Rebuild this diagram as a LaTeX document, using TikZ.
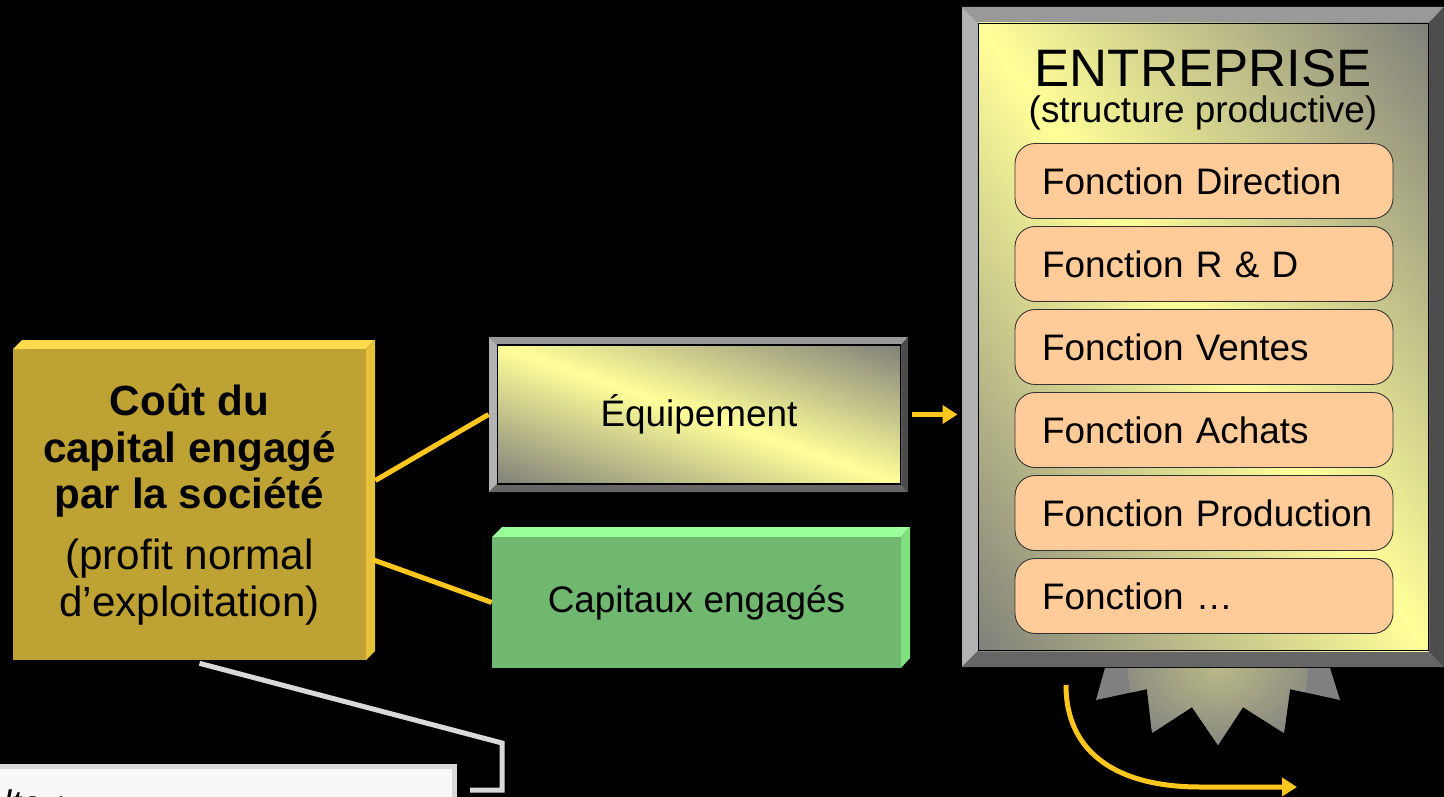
\documentclass[tikz,border=0pt]{standalone}
\usepackage{fontspec}
\setmainfont{Liberation Sans}
\usetikzlibrary{positioning,arrows.meta}

\definecolor{goldface}{RGB}{191,162,52}
\definecolor{goldtop}{RGB}{255,219,77}
\definecolor{goldside}{RGB}{230,194,58}
\definecolor{yellowface}{RGB}{255,255,153}
\definecolor{greyface}{RGB}{128,128,122}
\definecolor{greenface}{RGB}{112,184,112}
\definecolor{greentop}{RGB}{153,255,153}
\definecolor{greenside}{RGB}{128,224,128}
\definecolor{peach}{RGB}{255,204,153}
\definecolor{linkyellow}{RGB}{255,198,30}
\definecolor{calloutgrey}{RGB}{217,217,217}
\definecolor{notefill}{RGB}{248,248,248}
\definecolor{burstgrey}{RGB}{128,128,128}
\definecolor{glow}{RGB}{185,185,135}

\pgfdeclareverticalshading{bevelface}{100bp}{color(0bp)=(greyface); color(25bp)=(greyface); color(50bp)=(yellowface); color(75bp)=(greyface); color(100bp)=(greyface)}

\begin{document}
\begin{tikzpicture}[x=0.02cm, y=-0.02cm,
    every node/.style={font=\fontsize{21}{25}\selectfont},
    coutbox/.style={fill=goldface, minimum width=7.06cm, minimum height=6.22cm, inner sep=0pt, align=center, font=\fontsize{24}{26.6}\selectfont\bfseries},
    facebox/.style={draw=black, line width=0.6pt, inner sep=0pt},
    faceshade/.style={shading=bevelface},
    fonction/.style={draw=black!80, line width=0.5pt, fill=peach, rounded corners=0.4cm, minimum height=1.5cm, text width=7.02cm, inner xsep=0.27cm, inner ysep=0pt, align=left, execute at begin node=\hspace*{0.27cm}},
    link/.style={draw=linkyellow, line width=0.1cm},
    flow/.style={link, -{Triangle[length=0.3cm, width=0.36cm]}},
    calloutline/.style={draw=calloutgrey, line width=0.1cm}]

    \useasboundingbox (0,0) rectangle (1444,797);
    \clip (0,0) rectangle (1444,797);
    \fill[black] (0,0) rectangle (1444,797);

    % cout du capital
    \fill[goldtop] (13,349) -- (22,340) -- (375,340) -- (366,349) -- cycle;
    \fill[goldside] (366,349) -- (375,340) -- (375,651) -- (366,660) -- cycle;
    \node[coutbox] (cout) at (189.5,504.5) {Coût du\\capital engagé\\par la société\\[8pt]\mdseries (profit normal\\\mdseries d’exploitation)};

    % equipement
    \fill[black!40] (489,337) -- (908,337) -- (901,345) -- (497,345) -- cycle;
    \fill[black!30] (489,337) -- (497,345) -- (497,484) -- (489,492) -- cycle;
    \fill[black!60] (489,492) -- (497,484) -- (901,484) -- (908,492) -- cycle;
    \fill[black!70] (908,337) -- (901,345) -- (901,484) -- (908,492) -- cycle;
    \begin{scope}
        \clip (497,345) rectangle (901,484);
        \shade[faceshade, transform canvas={shift={(699,414.5)}, xscale=4.04, yscale=1.39, rotate=-45}] (-1.4142cm,-1.4142cm) rectangle (1.4142cm,1.4142cm);
    \end{scope}
    \node[facebox, minimum width=8.08cm, minimum height=2.78cm] (equip) at (699,414.5) {Équipement};

    % capitaux
    \fill[greentop] (492,537) -- (502,527) -- (910,527) -- (901,537) -- cycle;
    \fill[greenside] (901,537) -- (910,527) -- (910,658) -- (901,668) -- cycle;
    \node[fill=greenface, minimum width=8.18cm, minimum height=2.62cm, inner sep=0pt] (capit) at (696.5,602.5) {Capitaux engagés};

    % entreprise
    \fill[black!40] (962,7) -- (1444,7) -- (1429,23) -- (978,23) -- cycle;
    \fill[black!30] (962,7) -- (978,23) -- (978,651) -- (962,667) -- cycle;
    \fill[black!70] (1444,7) -- (1444,667) -- (1429,651) -- (1429,23) -- cycle;
    \fill[black!60] (962,667) -- (978,651) -- (1429,651) -- (1444,667) -- cycle;
    \begin{scope}
        \clip (978,23) rectangle (1429,651);
        \shade[faceshade, transform canvas={shift={(1203.5,337)}, xscale=4.51, yscale=6.28, rotate=-45}] (-1.4142cm,-1.4142cm) rectangle (1.4142cm,1.4142cm);
    \end{scope}
    \node[facebox, minimum width=9.02cm, minimum height=12.56cm] (ent) at (1203.5,337) {};
    \node[font=\fontsize{30}{36}\selectfont] (enttitle) at (1203,68) {ENTREPRISE};
    \node (entsub) at (1203,113) {(structure productive)};
    \foreach \t [count=\i] in {Direction, R \& D, Ventes, Achats, Production, …}
        \node[fonction] (f\i) at (1204,{181+83*(\i-1)}) {Fonction \t};

    % eclat
    \fill[burstgrey, path picture={\shade[inner color=glow, outer color=burstgrey] (path picture bounding box.north) circle (1.8cm);}]
        (1105,668) -- (1096,700) -- (1147,689) -- (1152,733) -- (1192,707) -- (1218,745)
        -- (1243,707) -- (1284,733) -- (1290,689) -- (1340,700) -- (1330,668) -- cycle;

    % liens
    \draw[link] ([shift={(9,-24)}]cout.east) -- ([xshift=-0.16cm]equip.west);
    \draw[link] ([shift={(6,55)}]cout.east) -- (capit.west);
    \draw[flow, shorten >=0.4cm] ([xshift=0.22cm]equip.east) -- (ent.west |- equip.east);
    \coordinate (flowstart) at (1066,685);
    \coordinate (flowend) at (1297,787);
    \draw[flow] (flowstart) .. controls (1066,755) and (1120,787) .. (1200,787) -- (flowend);

    % note
    \node[draw=calloutgrey, line width=0.1cm, fill=notefill, minimum width=9.3cm, minimum height=1.48cm, inner xsep=0.26cm, text width=8.78cm, align=left] (note) at (222.5,803) {\itshape lte :};
    \coordinate (calloutend) at (470,790);
    \draw[calloutline] ([shift={(10,3)}]cout.south) -- (502,743) -- (502,790) -- (calloutend);
\end{tikzpicture}
\end{document}
